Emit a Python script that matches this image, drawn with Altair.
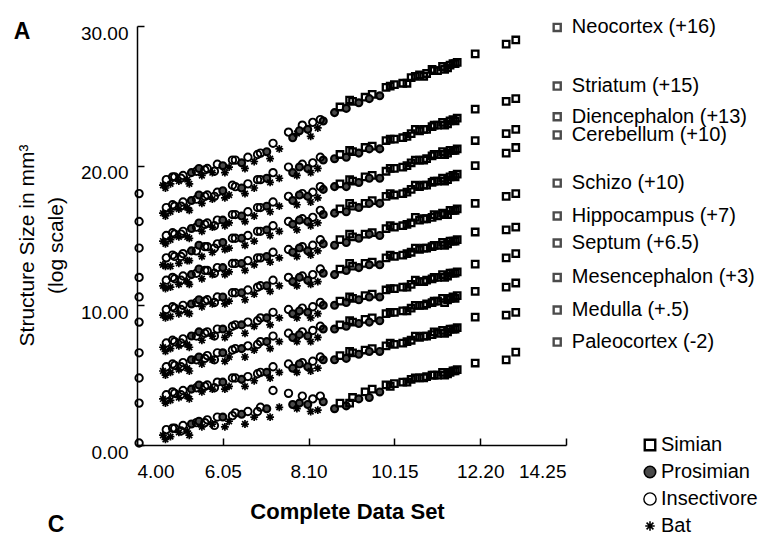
import altair as alt
import pandas as pd

# ---- data (one entry per species) ----
species_x = [4.05, 4.62, 4.70, 4.80, 4.90, 5.00, 5.10, 5.20, 5.30, 5.42,
             5.55, 5.68, 5.80, 5.92, 6.05, 6.20, 6.35, 6.50, 6.65, 6.80,
             6.95, 7.10, 7.25, 7.40, 7.62, 7.72, 7.82, 7.95, 8.08, 8.20,
             8.32, 8.45, 8.72, 8.85, 9.00, 9.15, 9.30, 9.45, 9.62, 9.80,
             9.95, 10.15, 10.35, 10.55, 10.75, 10.92, 11.05, 11.18, 11.30, 11.42,
             11.55, 11.65, 12.08, 12.82, 13.05,
             4.68, 4.85, 5.05, 5.25, 5.48, 5.62, 5.85, 6.10, 6.28, 6.58,
             6.88, 7.18, 7.88, 8.15, 8.38, 9.08, 9.55, 10.05, 10.45, 10.65,
             10.85, 11.10, 11.35, 11.48, 11.60]
species_taxon = ["I", "B", "I", "B", "I", "B", "I", "B", "P", "I",
                 "B", "I", "B", "I", "P", "B", "I", "P", "I", "B",
                 "I", "P", "I", "B", "I", "P", "B", "I", "P", "I",
                 "B", "P", "P", "S", "P", "S", "P", "S", "S", "P",
                 "S", "S", "S", "S", "S", "S", "S", "S", "S", "S",
                 "S", "S", "S", "S", "S",
                 "B", "I", "I", "B", "P", "I", "I", "B", "I", "B",
                 "I", "B", "P", "B", "I", "S", "P", "S", "S", "S",
                 "S", "S", "S", "S", "S"]

neocortex = [18.0, 18.6, 19.0, 18.7, 19.2, 18.9, 19.3, 19.0, 19.5, 19.6,
             19.3, 19.8, 19.5, 20.1, 20.0, 19.9, 20.4, 20.2, 20.6, 20.3,
             20.9, 21.0, 21.6, 21.2, 22.4, 22.0, 22.3, 22.9, 22.6, 23.1,
             22.7, 23.2, 23.8, 24.2, 24.1, 24.6, 24.5, 24.9, 25.1, 25.0,
             25.6, 25.8, 25.9, 26.3, 26.5, 26.6, 26.9, 26.8, 27.1, 27.0,
             27.3, 27.4, 28.0, 28.7, 29.0,
             18.4, 19.2, 19.1, 18.7, 19.8, 19.7, 19.6, 19.5, 20.4, 19.8,
             20.8, 20.5, 22.5, 22.1, 23.3, 24.7, 24.8, 25.7, 25.9, 26.4,
             26.4, 26.8, 26.9, 27.2, 27.3]
striatum = [16.0, 16.6, 17.0, 16.7, 17.1, 16.9, 17.4, 17.0, 17.5, 17.6,
            17.3, 17.9, 17.6, 18.1, 18.2, 17.9, 18.5, 18.4, 18.7, 18.4,
            19.0, 19.1, 19.5, 19.1, 19.9, 19.5, 19.3, 20.1, 19.8, 20.2,
            19.8, 20.4, 20.5, 20.8, 20.6, 21.0, 20.9, 21.3, 21.4, 21.2,
            21.8, 21.9, 22.0, 22.3, 22.5, 22.6, 22.8, 22.9, 23.1, 23.0,
            23.3, 23.4, 24.05, 24.6, 24.8,
            16.4, 17.2, 17.1, 16.8, 17.9, 17.8, 17.8, 17.7, 18.6, 18.0,
            19.0, 18.8, 19.9, 19.5, 20.6, 21.1, 21.2, 21.9, 22.1, 22.6,
            22.6, 22.9, 22.9, 23.2, 23.2]
diencephalon = [14.1, 14.6, 15.0, 14.7, 15.1, 14.9, 15.3, 14.9, 15.5, 15.6,
                15.3, 15.9, 15.6, 16.1, 16.1, 15.9, 16.5, 16.4, 16.7, 16.4,
                17.0, 17.1, 17.4, 17.1, 17.8, 17.5, 17.2, 18.0, 17.8, 18.1,
                17.7, 18.3, 18.5, 18.7, 18.5, 18.9, 18.8, 19.2, 19.3, 19.1,
                19.6, 19.8, 19.9, 20.2, 20.4, 20.5, 20.7, 20.8, 21.0, 20.9,
                21.1, 21.2, 21.8, 22.3, 22.6,
                14.4, 15.2, 15.1, 14.8, 15.9, 15.8, 15.7, 15.7, 16.5, 16.0,
                17.0, 16.7, 17.9, 17.4, 18.5, 19.0, 19.1, 19.8, 20.0, 20.4,
                20.4, 20.8, 20.8, 21.1, 21.1]
cerebellum = [12.0, 12.9, 13.4, 12.8, 13.5, 13.0, 13.7, 13.2, 13.9, 13.9,
              13.5, 14.2, 13.8, 14.4, 14.5, 14.1, 14.8, 14.8, 15.0, 14.6,
              15.3, 15.4, 15.7, 15.3, 16.0, 15.8, 15.4, 16.2, 16.0, 16.3,
              15.9, 16.5, 16.6, 16.9, 16.7, 17.1, 17.0, 17.3, 17.5, 17.3,
              17.8, 17.9, 18.0, 18.3, 18.5, 18.6, 18.8, 18.9, 19.1, 19.0,
              19.3, 19.4, 20.0, 20.9, 21.3,
              12.8, 13.6, 13.5, 13.2, 14.3, 14.2, 14.1, 14.0, 14.8, 14.3,
              15.3, 15.0, 16.1, 15.7, 16.8, 17.3, 17.3, 18.0, 18.1, 18.6,
              18.6, 18.9, 18.9, 19.2, 19.2]
schizo = [10.6, 11.4, 11.8, 11.3, 11.9, 11.5, 12.1, 11.7, 12.2, 12.3,
          11.9, 12.5, 12.2, 12.7, 12.7, 12.4, 13.0, 13.0, 13.2, 12.9,
          13.4, 13.5, 13.8, 13.4, 14.0, 13.8, 13.5, 14.2, 13.9, 14.3,
          13.9, 14.4, 14.3, 14.7, 14.5, 14.9, 14.8, 15.1, 15.2, 15.0,
          15.5, 15.6, 15.7, 15.9, 16.1, 16.2, 16.3, 16.4, 16.6, 16.5,
          16.8, 16.9, 17.3, 17.8, 18.0,
          11.2, 12.0, 11.8, 11.5, 12.6, 12.5, 12.3, 12.2, 13.0, 12.5,
          13.4, 13.1, 14.1, 13.6, 14.7, 15.1, 15.1, 15.7, 15.8, 16.3,
          16.2, 16.5, 16.5, 16.8, 16.8]
hippocampus = [8.8, 9.3, 9.7, 9.2, 9.8, 9.4, 10.0, 9.5, 10.1, 10.2,
               9.9, 10.4, 10.1, 10.6, 10.6, 10.3, 10.9, 10.9, 11.1, 10.8,
               11.4, 11.4, 11.8, 11.4, 12.0, 11.7, 11.4, 12.1, 11.8, 12.2,
               11.7, 12.3, 12.2, 12.6, 12.5, 12.8, 12.7, 13.0, 13.1, 12.9,
               13.4, 13.5, 13.6, 13.8, 14.0, 14.1, 14.2, 14.3, 14.5, 14.4,
               14.6, 14.7, 15.25, 15.4, 15.6,
               9.1, 9.9, 9.7, 9.4, 10.4, 10.3, 10.2, 10.1, 10.9, 10.4,
               11.3, 11.0, 12.0, 11.5, 12.6, 13.0, 12.9, 13.6, 13.7, 14.1,
               14.1, 14.3, 14.3, 14.6, 14.6]
septum = [6.6, 7.0, 7.3, 6.9, 7.4, 7.1, 7.6, 7.2, 7.8, 7.8,
          7.5, 8.1, 7.8, 8.3, 8.3, 8.0, 8.6, 8.6, 8.8, 8.5,
          9.1, 9.1, 9.5, 9.1, 9.7, 9.4, 9.1, 9.8, 9.5, 9.9,
          9.4, 10.0, 10.0, 10.3, 10.2, 10.5, 10.4, 10.7, 10.8, 10.6,
          11.1, 11.2, 11.3, 11.5, 11.7, 11.8, 11.9, 12.0, 12.2, 12.1,
          12.3, 12.4, 12.95, 13.4, 13.7,
          6.7, 7.5, 7.3, 7.0, 8.1, 8.0, 7.8, 7.7, 8.5, 8.0,
          8.9, 8.6, 9.6, 9.1, 10.2, 10.6, 10.6, 11.2, 11.3, 11.8,
          11.7, 12.0, 12.0, 12.3, 12.3]
mesencephalon = [4.8, 5.3, 5.6, 5.2, 5.7, 5.4, 5.9, 5.5, 6.1, 6.1,
                 5.8, 6.4, 6.1, 6.6, 6.6, 6.3, 6.9, 6.9, 7.1, 6.8,
                 7.4, 7.4, 7.8, 7.4, 8.0, 7.7, 7.4, 8.1, 7.8, 8.2,
                 7.7, 8.3, 8.3, 8.6, 8.5, 8.8, 8.7, 9.0, 9.1, 8.9,
                 9.4, 9.5, 9.6, 9.8, 10.0, 10.1, 10.2, 10.3, 10.5, 10.4,
                 10.6, 10.7, 11.0, 11.3, 11.6,
                 5.0, 5.8, 5.6, 5.3, 6.3, 6.2, 6.1, 6.0, 6.8, 6.3,
                 7.2, 6.9, 7.9, 7.4, 8.5, 8.9, 8.8, 9.5, 9.6, 10.0,
                 10.0, 10.3, 10.2, 10.5, 10.5]
medulla = [3.0, 3.3, 3.6, 3.2, 3.7, 3.4, 3.9, 3.5, 4.0, 4.1,
           3.8, 4.3, 4.0, 4.5, 4.5, 4.2, 4.8, 4.7, 4.9, 4.6,
           5.2, 5.2, 5.6, 5.2, 5.8, 5.5, 5.2, 5.9, 5.6, 6.0,
           5.5, 6.1, 6.1, 6.4, 6.2, 6.6, 6.5, 6.8, 6.9, 6.7,
           7.1, 7.2, 7.3, 7.5, 7.7, 7.8, 7.9, 8.0, 8.2, 8.1,
           8.3, 8.4, 9.16, 9.3, 9.5,
           3.0, 3.8, 3.6, 3.3, 4.3, 4.2, 4.1, 4.0, 4.8, 4.2,
           5.1, 4.8, 5.8, 5.3, 6.3, 6.7, 6.7, 7.3, 7.4, 7.8,
           7.8, 8.1, 8.0, 8.3, 8.3]
paleocortex = [0.14, 0.7, 1.1, 0.6, 1.2, 0.9, 1.4, 1.0, 1.5, 1.6,
               1.3, 1.8, 1.5, 2.0, 2.0, 1.7, 2.3, 2.2, 2.4, 2.0,
               2.7, 2.6, 3.9, 2.7, 3.7, 2.9, 2.6, 3.5, 2.9, 3.3,
               2.5, 3.1, 2.6, 3.0, 2.8, 3.4, 3.3, 3.8, 4.0, 3.8,
               4.3, 4.4, 4.5, 4.7, 4.8, 4.9, 5.0, 5.0, 5.2, 5.1,
               5.3, 5.4, 5.87, 6.1, 6.65,
               0.4, 1.2, 1.0, 0.7, 1.7, 1.6, 1.4, 1.3, 2.1, 1.5,
               2.4, 2.0, 3.0, 2.4, 3.5, 3.0, 3.4, 4.2, 4.5, 4.8,
               4.8, 5.0, 5.0, 5.2, 5.3]

structure_names = ["Neocortex", "Striatum", "Diencephalon", "Cerebellum", "Schizo",
                   "Hippocampus", "Septum", "Mesencephalon", "Medulla", "Paleocortex"]
structure_values = [neocortex, striatum, diencephalon, cerebellum, schizo,
                    hippocampus, septum, mesencephalon, medulla, paleocortex]
label_text = ["Neocortex (+16)", "Striatum (+15)", "Diencephalon (+13)", "Cerebellum (+10)",
              "Schizo (+10)", "Hippocampus (+7)", "Septum (+6.5)", "Mesencephalon (+3)",
              "Medulla (+.5)", "Paleocortex (-2)"]
label_y = [29.9, 25.7, 23.5, 22.2, 18.75, 16.4, 14.46, 12.0, 9.66, 7.37]

taxa = ["Simian", "Prosimian", "Insectivore", "Bat"]
taxon_code = {"S": "Simian", "P": "Prosimian", "I": "Insectivore", "B": "Bat"}
x_ticks = [4.00, 6.05, 8.10, 10.15, 12.20, 14.25]
y_ticks = [0, 10, 20, 30]

# ---- tables ----
rows = []
for name, vals in zip(structure_names, structure_values):
    for xv, tx, yv in zip(species_x, species_taxon, vals):
        rows.append({"structure": name, "x": xv, "y": yv, "taxon": taxon_code[tx]})
df = pd.DataFrame(rows)
labels = pd.DataFrame({"label": label_text, "y": label_y})

FONT = "Liberation Sans"
ASTERISK = "M-1,0L1,0M0,-1L0,1M-0.72,-0.72L0.72,0.72M-0.72,0.72L0.72,-0.72"

xscale = alt.Scale(domain=[4, 14.25], nice=False, zero=False)
yscale = alt.Scale(domain=[0, 30], nice=False, zero=False)
shape_scale = alt.Scale(domain=taxa, range=["square", "circle", "circle", ASTERISK])
fill_scale = alt.Scale(domain=taxa, range=["transparent", "#4a4a4a", "transparent", "transparent"])

xaxis = alt.Axis(values=x_ticks, format=".2f", title="Complete Data Set",
                 titleFontSize=22, titleFontWeight="bold", titleX=210, titleY=66,
                 titleAlign="center", titleBaseline="middle",
                 labelFontSize=19, labelPadding=24, grid=False,
                 tickSize=alt.ExprRef(expr="-7"), tickWidth=1.5, domainWidth=1.5)
yaxis = alt.Axis(values=y_ticks, format=".2f",
                 title=["Structure Size in mm³", "(log scale)"],
                 titleFontSize=21, titleFontWeight="normal", titleAngle=-90,
                 titleX=-121, titleY=219, titleAlign="center", titleBaseline="top",
                 titleLineHeight=29,
                 labelFontSize=19, labelPadding=16, labelOffset=7, grid=False,
                 tickSize=alt.ExprRef(expr="-7"), tickWidth=1.5, domainWidth=1.5)

points = alt.Chart(df).mark_point(filled=False, color="black", opacity=1).encode(
    x=alt.X("x:Q", scale=xscale, axis=xaxis),
    y=alt.Y("y:Q", scale=yscale, axis=yaxis),
    shape=alt.Shape("taxon:N", scale=shape_scale, legend=None),
    fill=alt.Fill("taxon:N", scale=fill_scale, legend=None),
    size=alt.Size("taxon:N", scale=alt.Scale(domain=taxa, range=[42, 62, 80, 50]), legend=None),
    strokeWidth=alt.StrokeWidth("taxon:N", scale=alt.Scale(domain=taxa, range=[2.3, 1.7, 1.7, 1.6]), legend=None),
)

label_marks = alt.Chart(labels).mark_point(shape="square", filled=False, size=50, strokeWidth=2.4, color="black").encode(
    x=alt.datum(14.04), y=alt.Y("y:Q", scale=yscale)
)
label_text_marks = alt.Chart(labels).mark_text(align="left", baseline="middle", fontSize=20, font=FONT, color="black").encode(
    x=alt.datum(14.39), y=alt.Y("y:Q", scale=yscale), text="label:N"
)

# taxon key (bottom right)
key_layers = []
key_sizes = [110, 130, 150, 90]
key_strokes = [2.4, 1.6, 1.4, 1.6]
for i, t in enumerate(taxa):
    d = pd.DataFrame({"taxon": [t]})
    ypos = 419 + 27 * i
    key_layers.append(
        alt.Chart(d).mark_point(filled=False, size=key_sizes[i], strokeWidth=key_strokes[i], color="black", opacity=1).encode(
            x=alt.value(513), y=alt.value(ypos),
            shape=alt.Shape("taxon:N", scale=shape_scale, legend=None),
            fill=alt.Fill("taxon:N", scale=fill_scale, legend=None),
        )
    )
    key_layers.append(
        alt.Chart(d).mark_text(align="left", baseline="middle", fontSize=20, font=FONT, color="black").encode(
            x=alt.value(524), y=alt.value(ypos), text="taxon:N"
        )
    )

letter_a = alt.Chart(pd.DataFrame({"t": ["A"]})).mark_text(fontSize=23, fontWeight="bold", font=FONT, color="black").encode(
    x=alt.value(-115), y=alt.value(6), text="t:N")
letter_c = alt.Chart(pd.DataFrame({"t": ["C"]})).mark_text(fontSize=23, fontWeight="bold", font=FONT, color="black",
                                                          baseline="bottom").encode(
    x=alt.value(-81), y=alt.value(511), text="t:N")

chart = alt.layer(points, label_marks, label_text_marks, *key_layers, letter_a, letter_c).properties(
    width=429, height=419,
    autosize=alt.AutoSizeParams(type="none"),
    padding={"left": 129, "top": 18, "right": 195, "bottom": 95},
).configure_view(stroke=None).configure_axis(
    labelFont=FONT, titleFont=FONT, labelColor="black", titleColor="black",
    domainColor="black", tickColor="black"
)

chart.save("out.html", embed_options={"renderer": "svg", "actions": False})
